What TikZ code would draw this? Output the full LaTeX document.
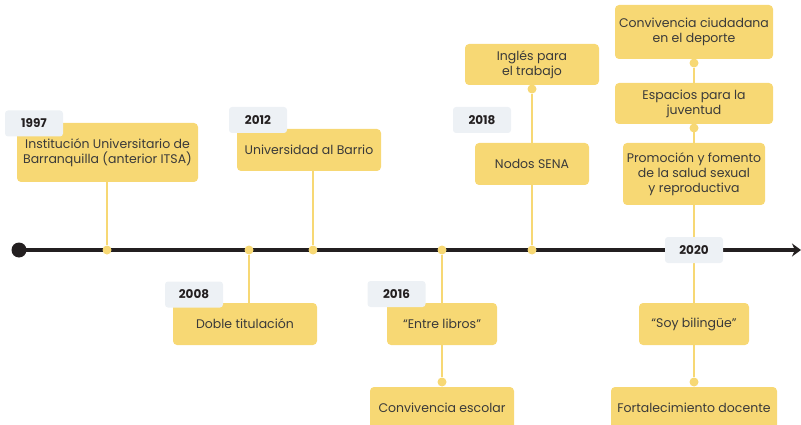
\documentclass[tikz,border=0pt]{standalone}
\usepackage{fontspec}
\setmainfont{Poppins}
\usetikzlibrary{arrows.meta,positioning}
\definecolor{boxyellow}{HTML}{F7D874}
\definecolor{yeargray}{HTML}{EDF1F5}
\definecolor{lineblack}{HTML}{231F20}
\definecolor{textgray}{HTML}{3A3A3A}
\pgfdeclarelayer{background}
\pgfsetlayers{background,main}

\begin{document}
\begin{tikzpicture}[x=1pt, y=-1pt,
  evbox/.style={fill=boxyellow, rounded corners=4pt, align=center, text=textgray,
                inner sep=2pt, font=\fontsize{12.5}{15}\selectfont},
  yearlab/.style={fill=yeargray, rounded corners=3pt, minimum width=58pt,
                  minimum height=26pt, text=lineblack,
                  font=\bfseries\fontsize{12}{14}\selectfont},
  stemline/.style={boxyellow, line width=2pt},
  ydot/.style={circle, fill=boxyellow, inner sep=0pt, minimum size=9pt},
  timeline/.style={lineblack, line width=3.5pt, -{Stealth[length=9pt, width=13pt]}}
]
  \useasboundingbox (0,0) rectangle (801,425);

  % --- time axis ----------------------------------------------------
  \node[circle, fill=lineblack, inner sep=0pt, minimum size=15pt] (start) at (19,250) {};
  \coordinate (end) at (801,250);
  \draw[timeline] (start.center) -- (end);

  \node[ydot] (t1997) at (107,250) {};
  \node[ydot] (t2008) at (249,250) {};
  \node[ydot] (t2012) at (313,250) {};
  \node[ydot] (t2016) at (442,250) {};
  \node[ydot] (t2018) at (532,250) {};
  \coordinate (t2020) at (694,250);

  % --- inner dots ---------------------------------------------------
  \node[ydot] (d2016) at (442,382) {};
  \node[ydot] (d2018) at (532,89) {};
  \node[ydot] (d2020a) at (694,63) {};
  \node[ydot] (d2020b) at (694,128) {};
  \node[ydot] (d2020c) at (694,382) {};

  % --- events -------------------------------------------------------
  \node[evbox, minimum width=181pt, minimum height=59pt] (b1997) at (107.5,152.5)
    {Institución Universitario de\\Barranquilla (anterior ITSA)};
  \node[evbox, minimum width=144pt, minimum height=42pt] (b2008) at (245,324) {Doble titulación};
  \node[evbox, minimum width=144pt, minimum height=42pt] (b2012) at (309,150) {Universidad al Barrio};
  \node[evbox, minimum width=110pt, minimum height=42pt] (b2016a) at (442,324) {“Entre libros”};
  \node[evbox, minimum width=144pt, minimum height=42pt] (b2016b) at (442,408) {Convivencia escolar};
  \node[evbox, minimum width=134pt, minimum height=41pt] (b2018a) at (532,64.5) {Inglés para\\el trabajo};
  \node[evbox, minimum width=114pt, minimum height=42pt] (b2018b) at (532,164) {Nodos SENA};
  \node[evbox, minimum width=158pt, minimum height=54pt] (b2020a) at (694,32)
    {Convivencia ciudadana\\en el deporte};
  \node[evbox, minimum width=158pt, minimum height=41pt] (b2020b) at (694,103.5)
    {Espacios para la\\juventud};
  \node[evbox, minimum width=142pt, minimum height=62pt] (b2020c) at (694,174)
    {Promoción y fomento\\de la salud sexual\\y reproductiva};
  \node[evbox, minimum width=110pt, minimum height=42pt] (b2020d) at (694,324) {“Soy bilingüe”};
  \node[evbox, minimum width=166pt, minimum height=42pt] (b2020e) at (694,408) {Fortalecimiento docente};

  % --- years --------------------------------------------------------
  \node[yearlab] (y1997) at (34,123.5) {1997};
  \node[yearlab] (y2008) at (194,294.5) {2008};
  \node[yearlab] (y2012) at (258,120) {2012};
  \node[yearlab] (y2016) at (396.5,294) {2016};
  \node[yearlab] (y2018) at (482,120) {2018};
  \node[yearlab] (y2020) at (t2020) {2020};

  % --- stems --------------------------------------------------------
  \begin{pgfonlayer}{background}
    \draw[stemline] (t1997 |- b1997.south) -- (t1997);
    \draw[stemline] (t2008) -- (t2008 |- b2008.north);
    \draw[stemline] (t2012 |- b2012.south) -- (t2012);
    \draw[stemline] (t2016) -- (b2016a);
    \draw[stemline] (b2016a) -- (d2016);
    \draw[stemline] (d2018) -- (t2018);
    \draw[stemline] (d2020a) -- (t2020);
    \draw[stemline] (t2020) -- (d2020c);
  \end{pgfonlayer}
\end{tikzpicture}
\end{document}
